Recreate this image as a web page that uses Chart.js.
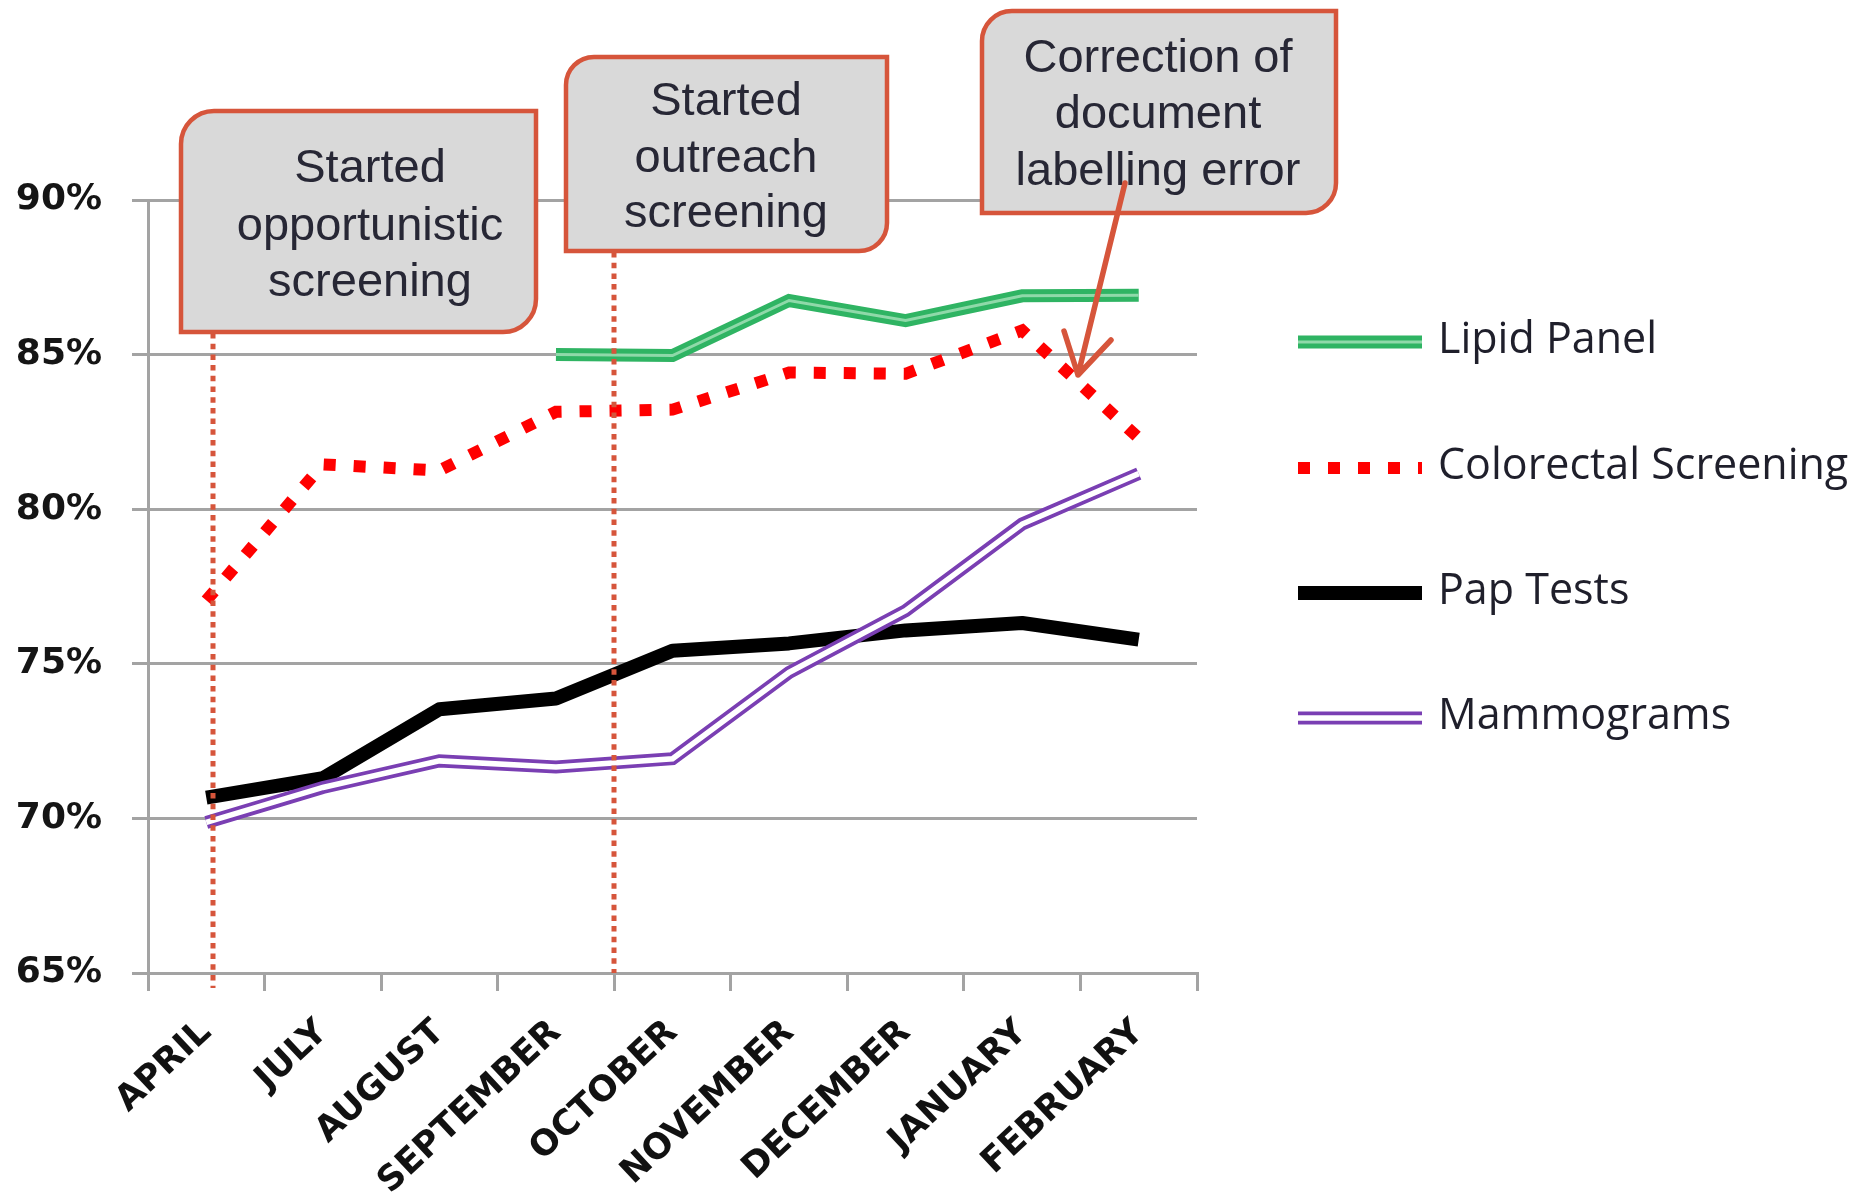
<!DOCTYPE html>
<html>
<head>
<meta charset="utf-8">
<title>Screening rates by month</title>
<script src="https://cdn.jsdelivr.net/npm/chart.js@4.4.0/dist/chart.umd.min.js"></script>
<style>
  html, body { margin: 0; padding: 0; background: #ffffff; }
  #wrap { width: 1875px; height: 1194px; position: relative; }
  canvas { display: block; }
</style>
</head>
<body>
<div id="wrap"><canvas id="chart" width="1875" height="1194"></canvas></div>
<script>
// ---- data ----
const months = ['APRIL', 'JULY', 'AUGUST', 'SEPTEMBER', 'OCTOBER', 'NOVEMBER', 'DECEMBER', 'JANUARY', 'FEBRUARY'];
const lipidPanel = [null, null, null, 85.0, 84.97, 86.75, 86.1, 86.9, 86.92];
const colorectal = [77.05, 81.45, 81.25, 83.15, 83.22, 84.42, 84.38, 85.78, 82.3];
const papTests = [70.67, 71.3, 73.53, 73.88, 75.42, 75.66, 76.08, 76.32, 75.78];
const mammograms = [69.87, 71.0, 71.86, 71.66, 71.93, 74.72, 76.72, 79.52, 81.15];
const yTicks = [65, 70, 75, 80, 85, 90];
const seriesNames = ['Lipid Panel', 'Colorectal Screening', 'Pap Tests', 'Mammograms'];
const calloutTexts = [
  ['Started', 'opportunistic', 'screening'],
  ['Started', 'outreach', 'screening'],
  ['Correction of', 'document', 'labelling error']
];
// month index (fractional) where each programme change is marked
const milestoneAt = [0.06, 3.5];

// ---- styles ----
const GRID = '#a3a3a3';
const CALLOUT_RED = '#d6553b';

// Marker lines, callout boxes and the arrow
const annotationPlugin = {
  id: 'screeningNotes',
  afterDatasetsDraw(chart, args, opts) {
    const ctx = chart.ctx;
    const xs = chart.scales.x;
    const area = chart.chartArea;
    ctx.save();

    // dotted milestone lines
    ctx.strokeStyle = CALLOUT_RED;
    ctx.lineWidth = 5;
    ctx.setLineDash([5.5, 5.2]);
    opts.markers.forEach((m, i) => {
      const x = Math.round(xs.getPixelForValue(milestoneAt[i]));
      ctx.beginPath();
      ctx.moveTo(x, m.fromY);
      ctx.lineTo(x, area.bottom + m.below);
      ctx.stroke();
    });
    ctx.setLineDash([]);

    // callout boxes with text
    opts.boxes.forEach((b, i) => {
      ctx.beginPath();
      ctx.roundRect(b.x, b.y, b.w, b.h, [b.r, 0, b.r, 0]);
      ctx.fillStyle = '#d9d9d9';
      ctx.fill();
      ctx.lineWidth = 4.5;
      ctx.strokeStyle = CALLOUT_RED;
      ctx.stroke();
      ctx.fillStyle = '#272735';
      ctx.font = '47px "Liberation Sans", Arial, sans-serif';
      ctx.textAlign = 'center';
      ctx.textBaseline = 'alphabetic';
      calloutTexts[i].forEach((line, j) => {
        ctx.fillText(line, b.cx, b.baselines[j]);
      });
    });

    // arrow to the corrected point
    const a = opts.arrow;
    ctx.strokeStyle = CALLOUT_RED;
    ctx.lineWidth = 5.5;
    ctx.lineCap = 'round';
    ctx.lineJoin = 'round';
    ctx.beginPath();
    ctx.moveTo(a.from[0], a.from[1]);
    ctx.lineTo(a.to[0], a.to[1]);
    ctx.moveTo(a.wingL[0], a.wingL[1]);
    ctx.lineTo(a.to[0], a.to[1]);
    ctx.lineTo(a.wingR[0], a.wingR[1]);
    ctx.stroke();
    ctx.restore();
  }
};

// Legend at the right, drawing each series' own line style
const sideLegendPlugin = {
  id: 'sideLegend',
  afterDraw(chart, args, opts) {
    const ctx = chart.ctx;
    const ds = chart.data.datasets;
    ctx.save();
    let row = 0;
    ds.forEach((d, i) => {
      if (!d.label) return;
      const y = opts.rows[row];
      const strokeSample = (s) => {
        ctx.beginPath();
        ctx.strokeStyle = s.borderColor;
        ctx.lineWidth = s.borderWidth;
        ctx.setLineDash(s.borderDash || []);
        ctx.lineCap = 'butt';
        ctx.moveTo(opts.x0, y);
        ctx.lineTo(opts.x1, y);
        ctx.stroke();
      };
      strokeSample(d);
      if (ds[i + 1] && ds[i + 1].overlay) strokeSample(ds[i + 1]);
      ctx.setLineDash([]);
      ctx.fillStyle = '#1f1f2b';
      ctx.font = '43px "Open Sans", sans-serif';
      ctx.textAlign = 'left';
      ctx.textBaseline = 'alphabetic';
      ctx.fillText(d.label, opts.textX, y + 11);
      row++;
    });
    ctx.restore();
  }
};

new Chart(document.getElementById('chart'), {
  type: 'line',
  data: {
    labels: months,
    datasets: [
      { label: seriesNames[0], data: lipidPanel, borderColor: '#2fb463', borderWidth: 13, order: 1 },
      { label: '', data: lipidPanel, borderColor: '#8fd9a9', borderWidth: 3, order: 0, overlay: true },
      { label: seriesNames[1], data: colorectal, borderColor: '#ff0000', borderWidth: 12, borderDash: [12, 18], order: 4 },
      { label: seriesNames[2], data: papTests, borderColor: '#000000', borderWidth: 14, order: 5, borderJoinStyle: 'round' },
      { label: seriesNames[3], data: mammograms, borderColor: '#7a3fb3', borderWidth: 13, order: 3 },
      { label: '', data: mammograms, borderColor: '#ffffff', borderWidth: 5.5, order: 2, overlay: true }
    ]
  },
  options: {
    responsive: false,
    animation: false,
    devicePixelRatio: 1,
    layout: { padding: { top: 200, right: 678, left: 0, bottom: 0 } },
    elements: {
      point: { radius: 0, hoverRadius: 0 },
      line: { tension: 0, borderCapStyle: 'butt', fill: false }
    },
    plugins: {
      legend: { display: false },
      tooltip: { enabled: false },
      screeningNotes: {
        markers: [
          { fromY: 333, below: 15 },
          { fromY: 252, below: 0 }
        ],
        boxes: [
          { x: 181, y: 111, w: 355, h: 221, r: 33, cx: 370, baselines: [182, 240, 296] },
          { x: 566, y: 57, w: 321, h: 194, r: 28, cx: 726, baselines: [115, 172, 227] },
          { x: 982, y: 11, w: 354, h: 202, r: 30, cx: 1158, baselines: [72, 128, 185] }
        ],
        arrow: { from: [1125, 183], to: [1078, 375], wingL: [1064, 331], wingR: [1111, 340] }
      },
      sideLegend: { x0: 1298, x1: 1422, textX: 1438, rows: [342, 468, 593, 718] }
    },
    scales: {
      x: {
        offset: true,
        grid: { offset: true, drawOnChartArea: false, drawTicks: true, tickLength: 18, color: GRID, lineWidth: 3 },
        border: { color: GRID, width: 3 },
        ticks: {
          autoSkip: false, minRotation: 43, maxRotation: 43, padding: 21,
          color: '#111111',
          font: { family: '"DejaVu Sans", sans-serif', weight: 'bold', size: 35 }
        },
        afterFit: (s) => { s.height = 221; }
      },
      y: {
        min: 65, max: 90,
        afterBuildTicks: (s) => { s.ticks = yTicks.map(v => ({ value: v })); },
        grid: { color: GRID, lineWidth: 3, tickLength: 16 },
        border: { color: GRID, width: 3 },
        ticks: {
          padding: 30,
          color: '#151515',
          callback: (v) => v + '%',
          font: { family: '"DejaVu Sans", sans-serif', weight: 'bold', size: 36 }
        },
        afterFit: (s) => { s.width = 148; }
      }
    }
  },
  plugins: [annotationPlugin, sideLegendPlugin]
});
</script>
</body>
</html>
